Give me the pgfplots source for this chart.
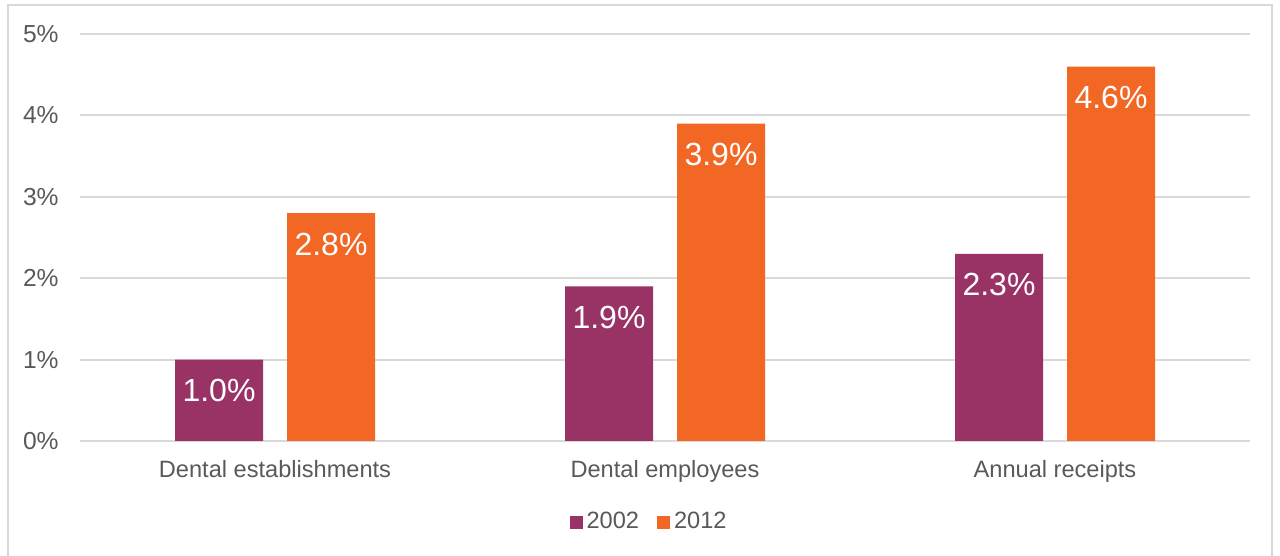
\documentclass[border=0pt]{standalone}
\usepackage{fontspec}
\setmainfont{Liberation Sans}
\usepackage{pgfplots}
\pgfplotsset{compat=1.18}
\definecolor{cPurple}{HTML}{993366}
\definecolor{cOrange}{HTML}{F26724}
\definecolor{cGrid}{HTML}{D9D9D9}
\definecolor{cText}{HTML}{595959}
\begin{document}
\begin{tikzpicture}
\useasboundingbox (0,0) rectangle (640bp,278bp);
\clip (0,0) rectangle (640bp,278bp);
\draw[cGrid, line width=1bp] (4bp,-5bp) rectangle (636bp,275.5bp);
\begin{axis}[
  at={(40bp,57.5bp)}, anchor=south west,
  scale only axis, width=585bp, height=203.5bp,
  /pgf/number format/assume math mode=true,
  ybar=12bp, bar width=44bp,
  xmin=-0.5, xmax=2.5, ymin=0, ymax=5,
  xtick={0,1,2},
  xticklabels={Dental establishments, Dental employees, Annual receipts},
  ytick={0,1,2,3,4,5},
  yticklabels={0\%,1\%,2\%,3\%,4\%,5\%},
  axis line style={draw=none},
  major tick length=0pt,
  ymajorgrids, grid style={cGrid, line width=1bp},
  yticklabel style={font=\fontsize{12.3bp}{14bp}\selectfont, text=cText, inner sep=0pt, anchor=east, xshift=-10.5bp},
  xticklabel style={font=\fontsize{11.8bp}{14bp}\selectfont, text=cText, inner sep=0pt, anchor=base, yshift=-18bp},
  nodes near coords={\pgfmathprintnumber[fixed, fixed zerofill, precision=1]{\pgfplotspointmeta}\%},
  every node near coord/.append style={font=\fontsize{16bp}{18bp}\selectfont, text=white, inner sep=0pt, anchor=base, yshift=-21bp},
  legend columns=2,
  legend style={draw=none, at={(axis description cs:0.4855,0)}, anchor=center, yshift=-40.5bp,
    font=\fontsize{11.8bp}{14bp}\selectfont, text=cText,
    /tikz/every even column/.append style={column sep=9bp},
    nodes={inner sep=0pt}},
  legend image code/.code={\fill[#1] (0bp,-3.25bp) rectangle (6.5bp,3.25bp);},
  legend cell align=left,
]
\addplot[fill=cPurple, draw=none] coordinates {(0,1.0) (1,1.9) (2,2.3)};
\addplot[fill=cOrange, draw=none] coordinates {(0,2.8) (1,3.9) (2,4.6)};
\legend{\hspace{2bp}2002, \hspace{2bp}2012}
\end{axis}
\end{tikzpicture}
\end{document}
